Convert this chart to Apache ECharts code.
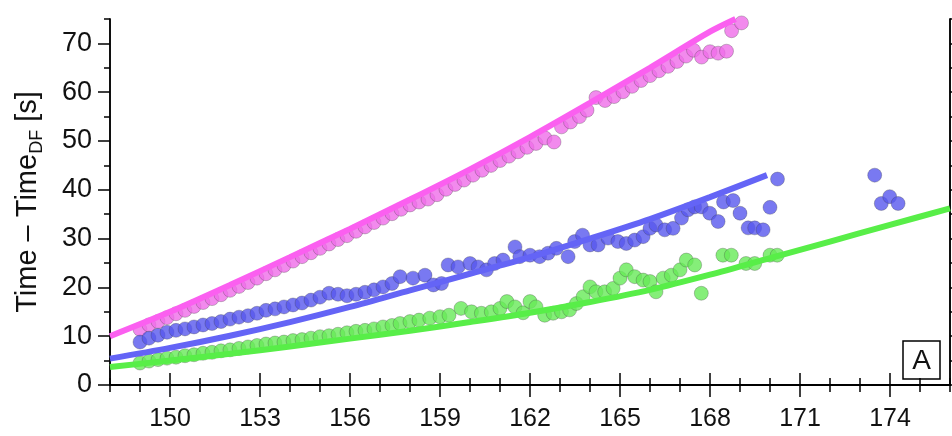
<!DOCTYPE html>
<html><head><meta charset="utf-8">
<script src="https://cdn.jsdelivr.net/npm/echarts@6/dist/echarts.min.js"></script>
<style>html,body{margin:0;padding:0;background:#fff}#c{width:952px;height:436px}</style>
</head><body><div id="c"></div>
<script>
const xMajorTicks = [150,153,156,159,162,165,168,171,174];
const yMajorTicks = [0,10,20,30,40,50,60,70];

const magentaFit = [[148,10],[150,15],[152,20.5],[154,26.2],[156,32],[158,38],[160,44.2],[162,50.8],[164,57.8],[166,65],[168,72.4],[168.85,75]];
const blueFit = [[148,5.4],[150,7.6],[152,10.1],[154,12.9],[156,16.0],[158,19.4],[160,22.8],[162,26.2],[164,30],[166,34],[168,38.5],[169.9,43]];
const greenFit = [[148,3.7],[150,5],[152,6.4],[154,7.9],[156,9.5],[158,11.1],[160,12.9],[162,14.8],[164,17],[166,19.5],[168,22.6],[170,26],[172,29.4],[174,32.8],[176,36.2]];

const magentaPts = [[149.0,11.4],[149.3,12.3],[149.6,13.0],[149.9,13.8],[150.2,14.6],[150.5,15.3],[150.8,16.1],[151.1,16.9],[151.4,17.7],[151.7,18.5],[152.0,19.4],[152.3,20.2],[152.6,21.0],[152.9,21.9],[153.2,22.8],[153.5,23.6],[153.8,24.5],[154.1,25.4],[154.4,26.3],[154.7,27.1],[155.0,28.0],[155.3,28.9],[155.6,29.8],[155.9,30.6],[156.2,31.5],[156.5,32.4],[156.8,33.3],[157.1,34.2],[157.4,35.1],[157.7,36.0],[158.0,36.9],[158.3,37.5],[158.6,38.1],[158.9,39.0],[159.2,40.1],[159.5,41.1],[159.8,42.0],[160.1,43.0],[160.4,44.0],[160.7,45.0],[161.0,46.0],[161.3,46.9],[161.6,47.8],[161.9,48.7],[162.2,49.5],[162.5,50.6],[162.8,49.8],[163.05,52.9],[163.35,53.9],[163.65,55.0],[163.9,56.3],[164.2,58.9],[164.5,58.3],[164.8,59.1],[165.1,60.1],[165.4,61.2],[165.7,62.4],[166.0,63.4],[166.3,64.4],[166.6,65.3],[166.9,66.3],[167.2,67.4],[167.45,68.6],[167.72,67.2],[168.0,68.3],[168.27,68.0],[168.55,68.4],[168.72,72.6],[169.05,74.2]];

const bluePts = [[149.0,8.8],[149.3,9.6],[149.6,10.2],[149.9,10.8],[150.2,11.2],[150.5,11.5],[150.8,11.9],[151.1,12.3],[151.4,12.6],[151.7,13.0],[152.0,13.5],[152.3,13.9],[152.6,14.2],[152.9,14.7],[153.2,15.3],[153.5,15.6],[153.8,16.0],[154.1,16.4],[154.4,16.8],[154.7,17.4],[155.0,18.0],[155.3,18.8],[155.6,18.6],[155.9,18.3],[156.2,18.6],[156.5,19.0],[156.8,19.5],[157.1,20.1],[157.4,20.8],[157.67,22.2],[158.1,21.9],[158.5,22.5],[158.78,20.5],[159.05,20.8],[159.27,24.6],[159.6,24.2],[160.0,24.9],[160.27,24.2],[160.55,23.6],[160.82,24.9],[161.1,25.6],[161.5,28.3],[161.66,26.3],[162.0,26.6],[162.32,26.3],[162.6,27.0],[162.88,28.0],[163.27,26.3],[163.49,29.4],[163.75,30.7],[164.0,28.7],[164.27,28.7],[164.6,30.1],[164.93,29.4],[165.21,29.0],[165.49,29.7],[165.77,30.4],[166.0,32.1],[166.2,32.8],[166.49,31.8],[166.77,32.1],[167.05,34.2],[167.27,35.9],[167.49,36.5],[167.71,36.5],[167.99,35.2],[168.27,33.5],[168.45,37.5],[168.77,37.8],[169.0,35.2],[169.27,32.2],[169.49,32.2],[169.77,31.8],[170.0,36.4],[170.25,42.2],[173.49,43.0],[173.71,37.2],[173.99,38.6],[174.27,37.2]];

const greenPts = [[149.0,4.5],[149.3,4.9],[149.6,5.2],[149.9,5.5],[150.2,5.7],[150.5,6.0],[150.8,6.2],[151.1,6.5],[151.4,6.7],[151.7,7.0],[152.0,7.2],[152.3,7.5],[152.6,7.8],[152.9,8.1],[153.2,8.4],[153.5,8.6],[153.8,8.8],[154.1,9.1],[154.4,9.3],[154.7,9.6],[155.0,9.9],[155.3,10.1],[155.6,10.4],[155.9,10.7],[156.2,11.0],[156.5,11.2],[156.8,11.5],[157.1,11.9],[157.4,12.2],[157.67,12.6],[158.0,13.0],[158.3,13.3],[158.66,13.7],[159.0,14.0],[159.3,14.3],[159.7,15.7],[160.05,15.0],[160.38,14.7],[160.71,15.0],[161.0,15.7],[161.23,17.1],[161.5,16.0],[161.77,14.8],[162.0,17.1],[162.2,16.0],[162.49,14.3],[162.77,14.7],[163.05,15.0],[163.32,15.4],[163.55,16.7],[163.77,18.1],[164.0,20.1],[164.2,19.1],[164.49,19.1],[164.77,19.8],[165.0,21.9],[165.21,23.6],[165.49,22.2],[165.77,21.5],[166.0,21.2],[166.2,19.1],[166.44,21.9],[166.71,22.5],[167.0,23.6],[167.21,25.6],[167.49,24.6],[167.71,18.8],[168.43,26.6],[168.71,26.6],[169.2,24.9],[169.49,24.9],[170.0,26.6],[170.24,26.6]];

const FONT = '"Liberation Sans", Arial, Helvetica, sans-serif';
const lineStyleAxis = {color:'#000', width:1.5};

function xAx(pos, major, labels){
  const a = {type:'value', min:148, max:176, position:pos, splitLine:{show:false},
    axisLine:{lineStyle:lineStyleAxis},
    axisTick:{length: major?12:7, lineStyle:lineStyleAxis},
    axisLabel:{show:false}};
  if (major){ a.axisTick.customValues = xMajorTicks; }
  else { a.interval = 1; }
  if (labels){ a.axisLabel = {show:true, customValues:xMajorTicks, fontSize:25, fontFamily:FONT, color:'#111', margin:22}; }
  return a;
}
function yAx(pos, major, labels){
  const a = {type:'value', min:0, max:75, position:pos, splitLine:{show:false},
    axisLine:{lineStyle:lineStyleAxis},
    axisTick:{length: major?12:6, lineStyle:lineStyleAxis},
    axisLabel:{show:false}};
  if (major){ a.axisTick.customValues = yMajorTicks; }
  else { a.interval = 5; }
  if (labels){
    a.axisLabel = {show:true, customValues:yMajorTicks, fontSize:27, fontFamily:FONT, color:'#111', margin:18};
    a.name = '{t|Time – Time}{s|DF}{t| [s]}';
    a.nameLocation = 'middle';
    a.nameRotate = 90;
    a.nameGap = 64;
    a.nameTextStyle = {rich:{
      t:{fontSize:29, fontFamily:FONT, color:'#111', lineHeight:36, verticalAlign:'middle'},
      s:{fontSize:18, fontFamily:FONT, color:'#111', lineHeight:18, verticalAlign:'bottom'}
    }};
  }
  return a;
}

const chart = echarts.init(document.getElementById('c'), null, {renderer:'canvas'});
const ptStyle = (c)=>({color:c, borderColor:'rgba(60,60,60,0.45)', borderWidth:0.8});
chart.setOption({
  animation:false,
  backgroundColor:'#fff',
  grid:{left:110, right:2, top:19, bottom:51},
  xAxis:[xAx('bottom',false,false), xAx('bottom',true,true), xAx('top',false,false), xAx('top',true,false)],
  yAxis:[yAx('left',false,false), yAx('left',true,true), yAx('right',false,false), yAx('right',true,false)],
  series:[
    {type:'line', data:magentaFit, symbol:'none', smooth:0.3, lineStyle:{color:'#fb5ff0', width:6}, silent:true},
    {type:'line', data:blueFit, symbol:'none', smooth:0.3, lineStyle:{color:'#6464f6', width:6}, silent:true},
    {type:'line', data:greenFit, symbol:'none', smooth:0.3, lineStyle:{color:'#58ee48', width:6}, silent:true},
    {type:'scatter', data:magentaPts, symbolSize:14, itemStyle:ptStyle('#ef6de8')},
    {type:'scatter', data:bluePts, symbolSize:14, itemStyle:ptStyle('#5858ee')},
    {type:'scatter', data:greenPts, symbolSize:14, itemStyle:ptStyle('#66ea58')}
  ],
  graphic:[
    {type:'rect', shape:{x:903, y:341, width:37, height:38}, style:{fill:'#fff', stroke:'#000', lineWidth:1.5}},
    {type:'text', x:921.5, y:361, style:{text:'A', fontSize:28, fontFamily:FONT, fill:'#111', align:'center', verticalAlign:'middle'}}
  ]
});
</script></body></html>
